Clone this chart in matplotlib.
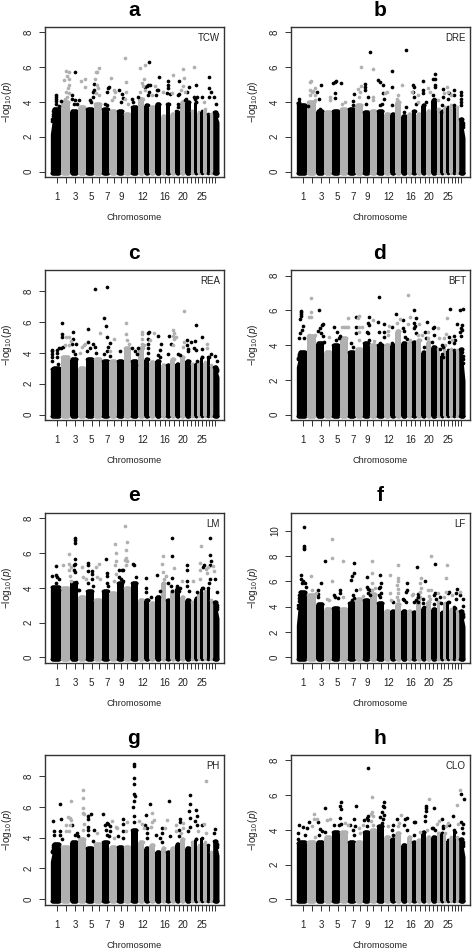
import numpy as np
import matplotlib
matplotlib.use("Agg")
import matplotlib.pyplot as plt

plt.rcParams["font.family"] = ["Liberation Sans", "DejaVu Sans"]
plt.rcParams["mathtext.fontset"] = "custom"
plt.rcParams["mathtext.rm"] = "Liberation Sans"
plt.rcParams["mathtext.it"] = "Liberation Sans:italic"

# widths of the 29 chromosomes along the genome axis, and where their ticks sit
CHROM_WIDTHS = [31, 28, 24, 23, 24, 24, 23, 22, 21, 21, 22, 19, 15, 17, 18,
                14, 14, 15, 14, 15, 17, 11, 9, 8, 10, 10, 10, 8, 19]
CHROM_TICKS = [20, 48, 75, 99, 124, 147, 170, 191, 212, 231, 253, 276, 296, 314, 329,
               343, 357, 371, 385, 398, 411, 422, 433, 444, 455, 466, 476, 485, 494]
TICK_NAMES = {1: "1", 3: "3", 5: "5", 7: "7", 9: "9", 12: "12", 16: "16", 20: "20", 25: "25"}

# top of the solid column per chromosome, then the points standing out above it
TOPS_A = [3.6, 4.0, 3.5, 3.7, 3.6, 3.9, 3.6, 3.5, 3.5, 3.3, 3.7, 4.2, 3.8, 3.7, 3.9,
          3.2, 3.9, 3.3, 3.4, 4.0, 4.0, 3.5, 4.0, 3.4, 3.5, 3.6, 3.3, 3.3, 3.4]
BLACK_A = [(17, 4.4), (17, 4.3), (17, 4.2), (17, 4.05), (17, 3.9), (33, 4.05), (27, 3.75), (11, 3.6),
           (75, 5.75), (64, 4.4), (65, 4.2), (74, 4.1), (80, 3.9), (86, 4.1), (72, 3.9),
           (118, 4.1), (122, 4.0), (129, 4.6), (132, 5.05), (127, 4.3), (131, 4.7),
           (174, 4.8), (177, 4.85), (171, 4.6), (165, 3.9), (170, 3.8),
           (206, 4.7), (214, 4.45), (217, 4.25), (211, 4.0), (244, 4.2), (249, 4.0), (263, 4.3),
           (297, 6.3), (294, 4.95), (298, 5.0), (285, 4.85), (289, 4.9), (297, 4.6), (294, 4.4),
           (325, 5.45), (319, 4.7), (322, 4.7), (317, 4.4),
           (352, 5.2), (352, 5.0), (352, 4.8), (359, 4.45), (349, 4.5),
           (386, 5.2), (386, 4.45), (382, 4.4), (382, 3.9), (384, 3.7), (377, 3.5),
           (415, 4.85), (410, 4.6), (407, 4.2), (404, 4.1),
           (436, 4.95), (431, 4.3), (439, 4.3), (434, 4.2), (454, 4.3),
           (476, 5.45), (475, 4.8), (482, 4.55), (476, 4.3), (492, 4.3), (497, 3.9)]
GREY_A = [(47, 5.8), (56, 5.75), (42, 5.25), (56, 5.3), (49, 5.5), (55, 5.0), (53, 4.8), (47, 4.6),
          (57, 4.5), (50, 4.3), (44, 4.2), (93, 5.2), (104, 5.35), (103, 4.85),
          (136, 5.75), (146, 5.95), (140, 5.7), (135, 5.3), (140, 5.0), (143, 4.8), (138, 4.5), (145, 4.4),
          (182, 5.4), (191, 4.7), (194, 4.6), (191, 4.3), (184, 4.1),
          (225, 6.55), (226, 5.15), (226, 4.6), (223, 4.2), (233, 3.9),
          (269, 5.95), (284, 6.15), (280, 5.3), (276, 5.1), (279, 4.9), (284, 4.7), (270, 4.6),
          (314, 4.9), (305, 4.4), (338, 4.6), (367, 5.55), (366, 4.5),
          (398, 5.9), (402, 5.4), (398, 4.9), (392, 4.7), (403, 4.6), (430, 6.0), (460, 4.0)]

TOPS_B = [3.8, 4.0, 3.5, 3.4, 3.5, 3.6, 3.6, 3.8, 3.4, 3.5, 3.5, 3.3, 3.3, 4.0, 3.2,
          3.3, 3.5, 3.3, 3.8, 3.5, 4.1, 3.6, 3.5, 3.7, 3.7, 3.8, 3.8, 3.7, 3.0]
BLACK_B = [(8, 4.15), (8, 4.0), (8, 3.9), (24, 3.5), (34, 3.75),
           (74, 4.95), (63, 4.6), (67, 4.2), (70, 3.6),
           (110, 5.1), (116, 5.15), (119, 5.2), (133, 5.1), (116, 4.5), (117, 4.25),
           (174, 4.45), (171, 4.05), (169, 3.8),
           (220, 6.85), (206, 5.05), (206, 4.85), (206, 4.7), (216, 4.3), (209, 3.9),
           (246, 5.25), (250, 5.15), (259, 5.0), (260, 4.5), (263, 4.2), (257, 3.9), (251, 3.8),
           (286, 5.8), (286, 4.85), (286, 3.8), (330, 7.0), (329, 3.7), (324, 3.4),
           (350, 5.0), (352, 4.85), (352, 4.3), (359, 3.9), (349, 4.6),
           (379, 5.2), (379, 4.7), (379, 4.5), (389, 4.0),
           (415, 5.6), (409, 5.3), (417, 5.3), (416, 5.0), (416, 4.85), (409, 4.4), (414, 4.2), (417, 4.1),
           (441, 4.75), (439, 4.3), (438, 3.8), (435, 3.4), (459, 4.5), (455, 4.2), (473, 4.7), (474, 4.4),
           (493, 4.6), (495, 4.4), (495, 4.2), (495, 4.0), (493, 3.8)]
GREY_B = [(45, 5.2), (42, 5.15), (41, 4.7), (48, 4.6), (57, 4.8), (51, 4.65), (55, 4.4), (57, 4.1), (41, 4.4),
          (101, 4.3), (101, 4.1), (137, 3.9), (147, 4.0),
          (195, 6.0), (184, 4.75), (191, 4.55), (195, 4.9), (189, 4.3), (229, 5.9), (231, 4.3), (231, 4.1),
          (267, 4.5), (272, 4.6), (316, 5.0), (306, 4.4), (303, 4.2), (303, 4.0), (346, 4.55),
          (366, 4.4), (366, 4.0), (395, 4.8), (402, 4.6), (426, 4.1), (453, 4.85), (455, 4.6), (444, 4.5), (463, 4.4)]

TOPS_C = [3.0, 3.7, 3.6, 3.0, 3.6, 3.6, 3.5, 3.5, 3.5, 4.3, 3.5, 4.3, 3.6, 3.4, 3.5,
          3.2, 3.2, 3.6, 3.3, 3.7, 3.5, 3.3, 3.3, 3.4, 3.7, 3.4, 3.7, 3.2, 3.1]
BLACK_C = [(5, 4.2), (5, 4.1), (5, 3.95), (5, 3.7), (5, 3.5), (20, 4.2), (20, 4.0), (20, 3.75), (22, 3.3),
           (35, 5.95), (35, 5.2), (35, 5.0), (32, 4.3), (27, 4.3), (37, 4.4),
           (68, 5.35), (68, 4.9), (65, 4.6), (77, 4.6), (68, 4.1), (73, 3.95),
           (113, 5.55), (134, 8.15), (114, 4.7), (129, 4.6), (133, 4.4), (119, 4.3), (111, 4.1), (137, 4.0),
           (169, 8.25), (161, 6.25), (167, 5.75), (169, 5.0), (179, 4.65), (173, 4.4), (169, 4.1), (161, 3.9), (179, 3.8),
           (208, 4.1), (245, 4.3), (262, 4.3), (253, 4.1), (261, 3.9), (257, 3.2),
           (296, 5.35), (292, 5.3), (292, 4.9), (294, 4.6), (292, 4.3), (293, 4.0),
           (324, 5.1), (331, 4.6), (330, 4.2), (322, 3.85), (329, 3.7), (356, 5.1), (354, 3.9), (363, 4.6),
           (383, 3.95), (389, 3.85), (411, 4.8), (421, 4.7), (411, 4.5), (413, 4.25), (414, 4.1),
           (436, 5.8), (433, 4.75), (432, 4.3), (436, 4.2), (439, 3.5), (456, 5.05), (454, 4.25), (456, 3.7),
           (481, 3.95), (475, 3.7), (494, 3.8), (499, 3.5)]
GREY_C = [(48, 5.05), (56, 5.0), (62, 4.75), (56, 4.5), (44, 4.5), (89, 4.0), (94, 4.4), (101, 4.5), (105, 4.6),
          (150, 5.25), (190, 4.9), (180, 4.1), (227, 5.95), (228, 5.2), (229, 4.8), (235, 4.6),
          (274, 5.35), (274, 5.2), (274, 4.9), (276, 4.6), (281, 4.5), (311, 5.3), (300, 4.8),
          (367, 5.45), (371, 5.3), (367, 5.1), (377, 5.05), (371, 4.9), (369, 4.5),
          (401, 6.7), (401, 4.7), (399, 4.4), (469, 4.55), (471, 4.3)]

TOPS_D = [3.6, 4.5, 4.1, 3.6, 4.0, 4.4, 3.6, 3.8, 4.1, 4.0, 4.0, 4.0, 4.0, 4.8, 4.1,
          4.1, 4.2, 4.3, 3.6, 4.2, 3.9, 3.8, 3.4, 4.0, 3.7, 3.8, 3.7, 3.7, 3.8]
BLACK_D = [(13, 5.95), (15, 5.9), (13, 5.8), (14, 5.7), (12, 5.5), (20, 5.1), (17, 4.9), (12, 4.7), (9, 4.4), (23, 4.4),
           (69, 6.0), (81, 5.2), (76, 5.15), (72, 5.0), (66, 4.8), (75, 4.7), (80, 4.5), (83, 4.2),
           (114, 5.05), (121, 4.75), (131, 4.5), (127, 4.4), (119, 4.3),
           (179, 5.6), (179, 5.05), (179, 4.7), (164, 4.1), (169, 3.9),
           (217, 5.6), (215, 5.25), (218, 5.15), (211, 4.75), (215, 4.7), (219, 4.3),
           (247, 6.8), (246, 5.35), (263, 5.2), (247, 4.75), (264, 4.75), (262, 4.45), (250, 4.1),
           (299, 5.8), (287, 5.05), (287, 4.1),
           (319, 5.45), (319, 5.0), (324, 4.8), (327, 4.45), (331, 4.35),
           (353, 6.05), (358, 5.55), (352, 5.25), (357, 5.1), (352, 5.0), (359, 4.7),
           (391, 5.35), (385, 4.75), (389, 4.4), (384, 3.9), (412, 5.05), (411, 5.0), (412, 4.6), (408, 4.2),
           (437, 4.0), (439, 3.9), (432, 3.8), (436, 3.5), (439, 3.3), (460, 6.1), (459, 4.45), (459, 4.2),
           (474, 4.5), (475, 4.3), (474, 4.1),
           (491, 6.0), (500, 6.1), (482, 5.2), (496, 5.15), (493, 5.0), (497, 4.9), (491, 4.75), (495, 4.5)]
GREY_D = [(44, 6.7), (44, 5.9), (38, 5.65), (43, 5.6), (37, 4.6), (55, 4.6), (99, 4.45),
          (155, 5.55), (137, 5.05), (142, 5.05), (149, 5.05), (154, 5.05),
          (189, 5.7), (184, 5.55), (197, 5.05), (189, 5.05), (189, 4.75), (189, 4.3), (229, 5.45), (233, 4.25),
          (279, 5.1), (276, 4.8), (275, 4.6), (303, 5.3), (311, 5.5),
          (336, 6.9), (340, 5.65), (336, 5.2), (341, 4.3), (369, 5.2), (366, 4.6), (377, 4.6),
          (396, 4.75), (396, 4.4), (424, 5.0), (427, 4.4), (452, 5.55), (449, 4.65), (444, 4.4), (467, 4.3)]

TOPS_E = [4.05, 4.0, 4.3, 3.5, 3.8, 3.3, 3.8, 3.7, 4.3, 4.0, 4.3, 3.3, 3.3, 3.1, 3.5,
          4.3, 3.3, 3.8, 4.0, 3.5, 3.3, 3.2, 3.4, 3.7, 4.0, 3.8, 4.0, 3.3, 3.2]
BLACK_E = [(18, 5.25), (5, 4.7), (16, 4.75), (20, 4.6), (25, 4.5), (17, 4.3), (27, 3.9),
           (73, 6.85), (73, 6.75), (73, 6.6), (74, 5.65), (75, 5.4), (71, 5.3), (72, 5.0), (73, 4.9), (76, 4.35), (83, 3.9), (86, 3.9),
           (113, 5.45), (112, 5.3), (112, 4.95), (125, 4.95), (125, 4.8), (125, 4.5), (114, 4.3), (127, 4.1),
           (167, 5.65), (169, 4.85), (169, 4.7), (171, 4.3), (174, 4.1),
           (206, 4.65), (207, 5.0), (215, 5.0), (218, 5.05), (212, 4.5), (219, 4.4),
           (249, 5.35), (251, 5.3), (257, 4.6), (286, 4.55), (287, 4.0), (287, 3.75), (293, 3.3), (301, 3.5),
           (319, 4.75), (329, 3.8), (327, 3.5),
           (364, 6.85), (364, 5.85), (364, 4.55), (354, 4.3), (362, 4.1), (364, 3.8), (379, 4.1), (389, 4.0), (387, 3.8),
           (411, 5.3), (409, 5.05), (410, 4.4), (409, 4.1), (417, 3.8), (439, 3.75), (461, 5.3), (457, 5.2), (459, 4.0),
           (480, 6.85), (480, 5.9), (481, 5.55), (480, 5.3), (479, 4.5), (477, 4.3), (495, 4.5), (499, 3.75)]
GREY_E = [(57, 5.95), (37, 5.3), (57, 5.35), (62, 5.2), (57, 5.0), (59, 4.7), (61, 4.4),
          (96, 5.2), (97, 4.6), (107, 4.5), (136, 5.2), (147, 5.35), (141, 4.6), (149, 4.5),
          (195, 6.5), (197, 6.0), (196, 5.55), (194, 5.3), (196, 4.8), (192, 4.4),
          (225, 7.55), (230, 6.65), (226, 6.2), (227, 5.7), (225, 5.6), (229, 5.55), (227, 5.3),
          (339, 5.85), (336, 5.4), (339, 4.9), (347, 4.7), (340, 4.5), (371, 5.15), (396, 4.4), (427, 4.4),
          (452, 6.4), (449, 5.45), (449, 5.05), (449, 4.5), (474, 5.2), (471, 4.85), (467, 5.1), (489, 5.25), (492, 4.95)]

TOPS_F = [5.2, 4.9, 4.2, 3.8, 3.9, 3.8, 4.3, 4.6, 4.5, 5.0, 4.3, 3.7, 3.7, 4.2, 3.7,
          3.7, 3.6, 4.8, 3.9, 4.4, 3.8, 4.4, 3.6, 4.3, 4.4, 3.8, 4.0, 3.7, 3.7]
BLACK_F = [(23, 10.35), (23, 8.8), (23, 8.65), (23, 8.55), (14, 6.55), (15, 6.2), (19, 6.0), (25, 5.85), (29, 5.6), (17, 5.9),
           (86, 7.6), (74, 5.9), (65, 5.3), (66, 5.0), (64, 4.8),
           (112, 4.95), (117, 4.8), (132, 5.3), (132, 5.05), (125, 4.7),
           (172, 7.45), (172, 6.65), (168, 6.4), (164, 6.15), (179, 5.35), (171, 4.9), (174, 4.7), (166, 4.5),
           (213, 6.35), (211, 5.6), (216, 5.4), (221, 5.3), (214, 5.1), (222, 4.9),
           (251, 6.5), (255, 5.9), (250, 5.6), (248, 5.5), (255, 5.1), (249, 4.9), (252, 4.8), (291, 4.35),
           (332, 5.9), (332, 5.3), (328, 5.15), (324, 4.55), (330, 4.4), (321, 4.6),
           (363, 7.15), (365, 5.0), (365, 4.8), (360, 4.5), (364, 4.4), (354, 4.4),
           (385, 6.0), (381, 4.6), (379, 4.3), (382, 3.95), (416, 7.35), (416, 5.1), (414, 4.9), (419, 4.6), (412, 4.2),
           (432, 4.75), (435, 4.3), (459, 5.2), (455, 5.1), (459, 4.4),
           (481, 5.4), (479, 5.05), (479, 4.6), (476, 3.9), (492, 4.95), (500, 4.6), (499, 4.1)]
GREY_F = [(43, 6.45), (47, 5.3), (60, 5.1), (107, 9.35), (107, 7.85), (107, 6.05), (91, 4.6), (97, 4.5),
          (139, 7.65), (140, 4.8), (192, 5.4), (201, 4.85),
          (226, 7.6), (226, 6.7), (226, 5.9), (235, 5.5), (227, 5.3), (282, 6.5), (282, 5.1), (283, 4.5),
          (304, 7.3), (304, 6.3), (304, 6.0), (303, 5.7), (304, 5.4), (305, 5.1), (303, 4.8), (305, 4.5),
          (349, 5.0), (346, 4.9), (374, 6.25), (370, 5.9), (374, 5.5), (371, 5.2),
          (404, 8.0), (396, 5.35), (404, 5.35), (397, 4.85), (402, 4.6), (424, 5.05),
          (452, 7.3), (448, 6.3), (449, 5.15), (444, 4.8), (466, 4.9), (491, 5.2)]

TOPS_G = [3.6, 3.4, 3.7, 3.9, 3.3, 3.6, 3.7, 3.4, 3.4, 3.4, 4.5, 3.7, 3.3, 3.5, 3.1,
          3.3, 3.1, 3.3, 3.6, 3.9, 3.3, 3.7, 3.9, 3.5, 4.0, 3.7, 3.5, 3.1, 3.8]
BLACK_G = [(30, 6.15), (9, 5.05), (32, 5.2), (11, 4.4), (10, 4.2), (29, 4.4), (30, 4.2), (34, 3.9),
           (64, 4.8), (81, 4.3), (74, 4.2), (83, 4.1),
           (123, 5.55), (112, 5.4), (114, 5.2), (114, 4.7), (112, 4.2), (114, 4.5), (132, 4.5), (129, 3.8),
           (159, 5.55), (169, 4.95), (174, 4.9), (164, 4.8), (179, 4.75), (167, 4.5), (179, 4.4), (169, 4.2), (177, 4.1),
           (217, 5.2), (218, 4.9), (204, 4.1), (219, 4.4), (219, 4.0),
           (251, 8.75), (251, 8.65), (251, 7.85), (251, 7.45), (251, 6.8), (253, 6.7), (251, 6.4), (249, 6.0), (250, 5.4), (250, 5.0),
           (299, 6.15), (287, 5.5), (285, 4.8), (291, 4.6), (289, 4.3), (291, 4.0),
           (317, 4.2), (334, 4.6), (334, 4.3), (329, 4.0), (334, 3.7), (356, 6.4), (359, 4.1),
           (390, 5.2), (389, 5.0), (387, 4.5), (386, 4.1),
           (418, 6.75), (418, 6.2), (417, 5.75), (418, 5.3), (419, 4.7), (412, 4.4),
           (436, 5.8), (433, 5.1), (440, 5.4), (439, 4.8), (455, 4.8), (491, 4.3), (495, 4.55)]
GREY_G = [(61, 6.4), (54, 5.35), (59, 5.3), (62, 5.15), (46, 4.85), (59, 4.85), (57, 4.4), (48, 4.4),
          (99, 7.1), (99, 6.6), (99, 5.95), (97, 5.6), (101, 5.55), (101, 4.9), (99, 4.5), (139, 4.3),
          (184, 5.1), (197, 4.7), (201, 4.6), (192, 4.0), (229, 5.0), (228, 4.4),
          (267, 5.05), (276, 4.9), (282, 4.6), (306, 5.6), (304, 5.0), (302, 4.7), (312, 5.15),
          (349, 5.15), (344, 4.6), (376, 4.85), (376, 4.4), (397, 4.95), (399, 4.6), (393, 4.3),
          (443, 4.4), (466, 7.65), (462, 4.9), (467, 4.3)]

TOPS_H = [3.3, 3.3, 3.3, 3.6, 3.9, 3.9, 3.3, 3.3, 3.9, 4.0, 4.2, 3.6, 3.5, 3.8, 3.1,
          3.6, 3.3, 3.4, 3.9, 3.6, 3.6, 3.8, 3.8, 3.8, 3.4, 3.6, 4.0, 3.6, 3.5]
BLACK_H = [(7, 4.3), (5, 3.8), (20, 4.15), (31, 4.1), (37, 4.45), (5, 3.5), (27, 3.7),
           (66, 4.45), (86, 5.25), (71, 4.05), (77, 3.95), (85, 3.9), (69, 3.7),
           (135, 5.6), (132, 5.35), (135, 5.2), (130, 4.7), (113, 4.25), (135, 4.35), (128, 4.3),
           (180, 5.4), (173, 4.6), (161, 4.3), (175, 4.2), (169, 4.0), (174, 3.7),
           (215, 7.55), (204, 4.55), (216, 4.8), (212, 4.7), (215, 4.55), (211, 4.2),
           (262, 5.6), (261, 5.4), (263, 5.3), (256, 5.05), (263, 4.85), (251, 4.75), (259, 4.6), (256, 4.4),
           (301, 4.65), (289, 4.3), (288, 4.0), (289, 3.7), (326, 4.65), (331, 4.7), (324, 4.25), (332, 4.0),
           (353, 4.45), (356, 4.45), (352, 3.7), (388, 5.4), (388, 5.25), (389, 5.1), (387, 4.8), (387, 4.5),
           (412, 5.25), (409, 4.1), (416, 4.0), (407, 4.1), (436, 4.65), (439, 4.2), (441, 4.1),
           (459, 4.3), (469, 4.8), (475, 3.9), (495, 6.05), (502, 5.8), (493, 4.45), (499, 4.35), (497, 4.1), (499, 3.8)]
GREY_H = [(52, 4.9), (52, 4.6), (46, 4.2), (62, 4.6), (56, 3.6), (92, 4.55), (101, 4.65), (145, 4.4), (156, 4.3),
          (187, 4.1), (199, 4.25), (191, 3.8), (226, 5.9), (227, 5.05), (224, 4.9), (229, 4.8), (225, 4.5), (229, 4.3),
          (274, 4.2), (313, 4.85), (309, 4.4), (305, 4.2), (372, 3.9), (398, 5.8), (393, 4.0),
          (429, 4.5), (423, 4.35), (455, 4.4), (449, 4.2), (482, 5.45), (491, 6.3), (484, 4.35)]

# height of the mass at the very start of chromosome 1 and the very end of chromosome 29
START_HEIGHT = [2.2, 4.1, 2.9, 2.8, 4.0, 2.6, 2.5, 3.2]
END_HEIGHT = [2.9, 2.0, 2.5, 2.0, 2.3, 2.5, 2.9, 2.5]

PANELS = [
    ("a", "TCW", TOPS_A, BLACK_A, GREY_A),
    ("b", "DRE", TOPS_B, BLACK_B, GREY_B),
    ("c", "REA", TOPS_C, BLACK_C, GREY_C),
    ("d", "BFT", TOPS_D, BLACK_D, GREY_D),
    ("e", "LM", TOPS_E, BLACK_E, GREY_E),
    ("f", "LF", TOPS_F, BLACK_F, GREY_F),
    ("g", "PH", TOPS_G, BLACK_G, GREY_G),
    ("h", "CLO", TOPS_H, BLACK_H, GREY_H),
]
YLIMS = [(-0.31, 8.31), (-0.31, 8.31), (-0.34, 9.35), (-0.31, 8.33),
         (-0.33, 8.31), (-0.45, 11.42), (-0.37, 9.36), (-0.33, 8.31)]
YTICKS = [[0, 2, 4, 6, 8], [0, 2, 4, 6, 8], [0, 2, 4, 6, 8], [0, 2, 4, 6, 8],
          [0, 2, 4, 6, 8], [0, 2, 4, 6, 8, 10], [0, 2, 4, 6, 8], [0, 2, 4, 6, 8]]

W, H = 472, 949
COLUMN_LEFT = [45, 291]
ROW_TOP = [27, 270, 513, 755]
BOX_W, BOX_H = 179, 150
GREY = "#b0b0b0"
FRAME = "#333333"
DOT = 7
DOT_RADIUS = 5  # in genome-axis units

fig = plt.figure(figsize=(W / 100, H / 100), dpi=100)

edges = np.concatenate([[0], np.cumsum(CHROM_WIDTHS)])
for i, (letter, trait, tops, black, grey) in enumerate(PANELS):
    left = COLUMN_LEFT[i % 2]
    top = ROW_TOP[i // 2]
    ax = fig.add_axes([left / W, 1 - (top + BOX_H) / H, BOX_W / W, BOX_H / H])

    # solid mass of points, one chromosome at a time, with dots rounding off its rim
    for c, height in enumerate(tops):
        color = "black" if c % 2 == 0 else GREY
        xs = np.linspace(edges[c], edges[c + 1], CHROM_WIDTHS[c] + 1)
        ys = np.full(len(xs), float(height))
        if c == 0:
            ys = np.interp(xs, [0, 10], [START_HEIGHT[i], height])
        if c == len(tops) - 1:
            ys = np.interp(xs, [edges[c + 1] - 9, edges[c + 1]], [height, END_HEIGHT[i]])
        inside = (xs >= edges[c] + DOT_RADIUS) & (xs <= edges[c + 1] - DOT_RADIUS)
        if not inside.any():
            inside = np.abs(xs - (edges[c] + edges[c + 1]) / 2) < 1
        rim, rim_y = xs[inside], ys[inside]
        ax.fill_between(xs, -0.1, ys - 0.05, color=color, linewidth=0, zorder=2 + 0.01 * c)
        ax.scatter(rim, rim_y, s=DOT, color=color, linewidths=0, zorder=2 + 0.01 * c)
        ax.scatter(rim, np.full(len(rim), -0.1), s=DOT, color=color, linewidths=0, zorder=2 + 0.01 * c)

    bx, by = zip(*black)
    gx, gy = zip(*grey)
    ax.scatter(bx, by, s=DOT, color="black", linewidths=0, zorder=3)
    ax.scatter(gx, gy, s=DOT, color=GREY, linewidths=0, zorder=4)

    ax.set_xlim(-16, 521)
    ax.set_ylim(*YLIMS[i])
    ax.set_xticks(CHROM_TICKS)
    ax.set_xticklabels([TICK_NAMES.get(n + 1, "") for n in range(len(CHROM_TICKS))])
    ax.set_yticks(YTICKS[i])
    ax.set_yticklabels([str(t) for t in YTICKS[i]], rotation=90, va="center")
    ax.tick_params(axis="x", length=4.5, width=0.7, color=FRAME, labelsize=7,
                   labelcolor="#222222", pad=6)
    ax.tick_params(axis="y", length=4.5, width=0.7, color=FRAME, labelsize=7,
                   labelcolor="#222222", pad=3.5)
    for spine in ax.spines.values():
        spine.set_linewidth(1.0)
        spine.set_color(FRAME)

    ax.text(0.977, 0.925, trait, transform=ax.transAxes, ha="right", va="center",
            fontsize=7, color="#222222")
    fig.text((left + 89) / W, 1 - (top - 17) / H, letter, ha="center", va="center",
             fontsize=15, fontweight="bold", color="black")
    fig.text((left + 89) / W, 1 - (top + BOX_H + 40) / H, "Chromosome", ha="center", va="center",
             fontsize=6.6, color="#222222")
    fig.text((left - 38) / W, 1 - (top + BOX_H / 2) / H, r"$-\log_{10}(p)$", rotation=90,
             ha="center", va="center", fontsize=7.2, color="#222222")

fig.savefig("out.png", dpi=100)
plt.close(fig)
